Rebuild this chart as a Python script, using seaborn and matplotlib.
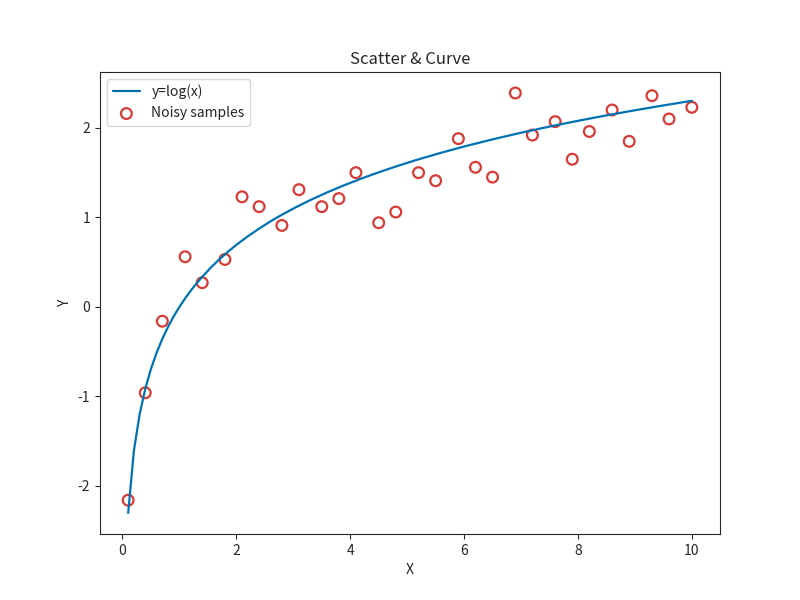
import matplotlib
matplotlib.use('Agg')
import pandas as pd
import matplotlib.pyplot as plt
import seaborn as sns

sns.set_style('ticks')
plt.rcParams['font.family'] = ['Noto Sans CJK SC', 'DejaVu Sans']
plt.rcParams['axes.unicode_minus'] = False

# curve y=log(x), values
curve_x = [0.1, 0.2, 0.3, 0.4, 0.5, 0.6, 0.7, 0.8, 0.9, 1.0, 1.1, 1.2, 1.3,
           1.4, 1.55, 1.7, 1.85, 2.0, 2.2, 2.4, 2.6, 2.8, 3.05, 3.3, 3.6,
           3.9, 4.2, 4.5, 4.85, 5.2, 5.6, 6.0, 6.5, 7.0, 7.5, 8.0, 8.5, 9.0,
           9.5, 10.0]
curve_y = [-2.303, -1.609, -1.204, -0.916, -0.693, -0.511, -0.357, -0.223,
           -0.105, 0.0, 0.095, 0.182, 0.262, 0.336, 0.438, 0.531, 0.615,
           0.693, 0.788, 0.875, 0.956, 1.030, 1.115, 1.194, 1.281, 1.361,
           1.435, 1.504, 1.579, 1.649, 1.723, 1.792, 1.872, 1.946, 2.015,
           2.079, 2.140, 2.197, 2.251, 2.303]

# noisy samples
sample_x = [0.1, 0.4, 0.7, 1.1, 1.4, 1.8, 2.1, 2.4, 2.8, 3.1, 3.5, 3.8, 4.1,
            4.5, 4.8, 5.2, 5.5, 5.9, 6.2, 6.5, 6.9, 7.2, 7.6, 7.9, 8.2, 8.6,
            8.9, 9.3, 9.6, 10.0]
sample_y = [-2.16, -0.96, -0.16, 0.56, 0.27, 0.53, 1.23, 1.12, 0.91, 1.31,
            1.12, 1.21, 1.50, 0.94, 1.06, 1.50, 1.41, 1.88, 1.56, 1.45, 2.39,
            1.92, 2.07, 1.65, 1.96, 2.20, 1.85, 2.36, 2.10, 2.23]

curve = pd.DataFrame({'x': curve_x, 'y': curve_y})
samples = pd.DataFrame({'x': sample_x, 'y': sample_y})

fig, ax = plt.subplots(figsize=(8, 6), dpi=100)
sns.lineplot(data=curve, x='x', y='y', color='#0072b2', linewidth=1.6,
             label='y=log(x)', ax=ax)
sns.scatterplot(data=samples, x='x', y='y', s=60, facecolor='none',
                edgecolor='#d63c35', linewidth=1.6, label='Noisy samples', ax=ax)

ax.set_title('Scatter & Curve')
ax.set_xlabel('X')
ax.set_ylabel('Y')
ax.set_xticks([0, 2, 4, 6, 8, 10])
ax.set_yticks([-2, -1, 0, 1, 2])
ax.legend(loc='upper left')

plt.savefig('out.png')
plt.close()
